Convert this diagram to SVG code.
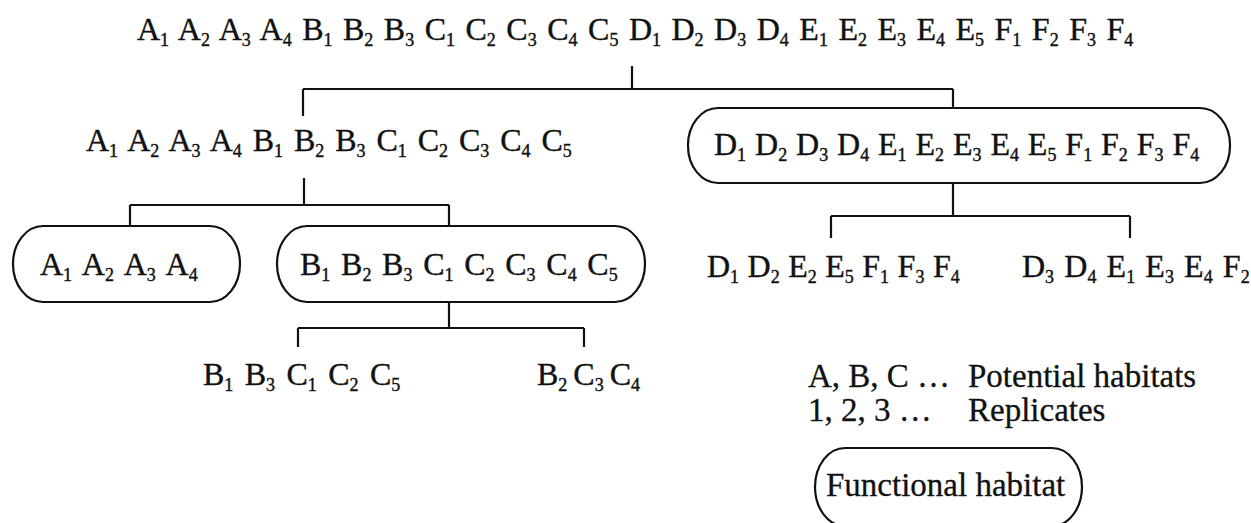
<svg xmlns="http://www.w3.org/2000/svg" width="1251" height="523" viewBox="0 0 1251 523">
<style>
.t{font-family:"Liberation Serif","Times New Roman",serif;font-size:32px;fill:#111;stroke:#111;stroke-width:0.4px}
.s{font-size:18px;baseline-shift:-6px}
.lg{font-family:"Liberation Serif","Times New Roman",serif;font-size:33px;fill:#111;stroke:#111;stroke-width:0.3px}
.box{fill:none;stroke:#111;stroke-width:2.2}
.c{fill:none;stroke:#111;stroke-width:2.2}
</style>
<rect width="1251" height="523" fill="#fff"/>
<g id="connectors">
<path class="c" d="M632,66V89M303,89H953M303,89V116M953,89V108"/>
<path class="c" d="M304,178V205M130,205H449M130,205V226M449,205V225"/>
<path class="c" d="M953,183V216M831,216H1130M831,216V238M1130,216V238"/>
<path class="c" d="M449,302V328M298,328H584M298,328V347M584,328V347"/>
</g>
<g id="n-all">
<text class="t" x="137" y="40" style="word-spacing:2.5px">A<tspan class="s">1</tspan> A<tspan class="s">2</tspan> A<tspan class="s">3</tspan> A<tspan class="s">4</tspan> B<tspan class="s">1</tspan> B<tspan class="s">2</tspan> B<tspan class="s">3</tspan> C<tspan class="s">1</tspan> C<tspan class="s">2</tspan> C<tspan class="s">3</tspan> C<tspan class="s">4</tspan> C<tspan class="s">5</tspan> D<tspan class="s">1</tspan> D<tspan class="s">2</tspan> D<tspan class="s">3</tspan> D<tspan class="s">4</tspan> E<tspan class="s">1</tspan> E<tspan class="s">2</tspan> E<tspan class="s">3</tspan> E<tspan class="s">4</tspan> E<tspan class="s">5</tspan> F<tspan class="s">1</tspan> F<tspan class="s">2</tspan> F<tspan class="s">3</tspan> F<tspan class="s">4</tspan></text>
</g>
<g id="n-abc">
<text class="t" x="86" y="151" style="word-spacing:2.9px">A<tspan class="s">1</tspan> A<tspan class="s">2</tspan> A<tspan class="s">3</tspan> A<tspan class="s">4</tspan> B<tspan class="s">1</tspan> B<tspan class="s">2</tspan> B<tspan class="s">3</tspan> C<tspan class="s">1</tspan> C<tspan class="s">2</tspan> C<tspan class="s">3</tspan> C<tspan class="s">4</tspan> C<tspan class="s">5</tspan></text>
</g>
<g id="n-def">
<rect class="box" x="688" y="108" width="542" height="75" rx="30" ry="37"/>
<text class="t" x="714" y="155" style="word-spacing:0.9px">D<tspan class="s">1</tspan> D<tspan class="s">2</tspan> D<tspan class="s">3</tspan> D<tspan class="s">4</tspan> E<tspan class="s">1</tspan> E<tspan class="s">2</tspan> E<tspan class="s">3</tspan> E<tspan class="s">4</tspan> E<tspan class="s">5</tspan> F<tspan class="s">1</tspan> F<tspan class="s">2</tspan> F<tspan class="s">3</tspan> F<tspan class="s">4</tspan></text>
</g>
<g id="n-a">
<rect class="box" x="13" y="226" width="227" height="76" rx="30" ry="38"/>
<text class="t" x="40" y="275" style="word-spacing:3.5px">A<tspan class="s">1</tspan> A<tspan class="s">2</tspan> A<tspan class="s">3</tspan> A<tspan class="s">4</tspan></text>
</g>
<g id="n-bc">
<rect class="box" x="277" y="226" width="368" height="76" rx="30" ry="38"/>
<text class="t" x="300" y="275" style="word-spacing:2.7px">B<tspan class="s">1</tspan> B<tspan class="s">2</tspan> B<tspan class="s">3</tspan> C<tspan class="s">1</tspan> C<tspan class="s">2</tspan> C<tspan class="s">3</tspan> C<tspan class="s">4</tspan> C<tspan class="s">5</tspan></text>
</g>
<g id="n-def1">
<text class="t" x="707" y="277" style="word-spacing:0.5px">D<tspan class="s">1</tspan> D<tspan class="s">2</tspan> E<tspan class="s">2</tspan> E<tspan class="s">5</tspan> F<tspan class="s">1</tspan> F<tspan class="s">3</tspan> F<tspan class="s">4</tspan></text>
</g>
<g id="n-def2">
<text class="t" x="1022" y="277" style="word-spacing:2.2px">D<tspan class="s">3</tspan> D<tspan class="s">4</tspan> E<tspan class="s">1</tspan> E<tspan class="s">3</tspan> E<tspan class="s">4</tspan> F<tspan class="s">2</tspan></text>
</g>
<g id="n-bc1">
<text class="t" x="203" y="385" style="word-spacing:3.4px">B<tspan class="s">1</tspan> B<tspan class="s">3</tspan> C<tspan class="s">1</tspan> C<tspan class="s">2</tspan> C<tspan class="s">5</tspan></text>
</g>
<g id="n-bc2">
<text class="t" x="537" y="385" style="word-spacing:-2px">B<tspan class="s">2</tspan> C<tspan class="s">3</tspan> C<tspan class="s">4</tspan></text>
</g>
<g id="legend">
<text class="lg" x="808" y="387">A, B, C …</text>
<text class="lg" x="968" y="387">Potential habitats</text>
<text class="lg" x="808" y="421">1, 2, 3 …</text>
<text class="lg" x="968" y="421">Replicates</text>
<rect class="box" x="815" y="448" width="267" height="78" rx="30" ry="39"/>
<text class="lg" x="826" y="496">Functional habitat</text>
</g>
</svg>
